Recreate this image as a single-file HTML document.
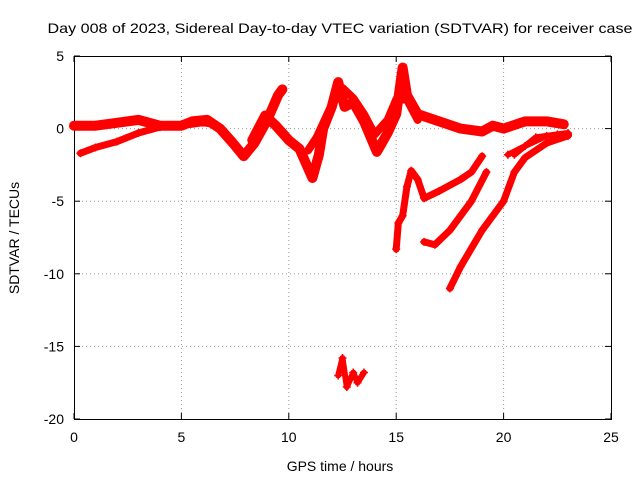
<!DOCTYPE html>
<html><head><meta charset="utf-8"><style>
body{margin:0;background:#fff}
svg text{font-family:"Liberation Sans",sans-serif;font-size:14px;fill:#000}
</style></head><body>
<svg id="chart" width="640" height="480">
<text x="340" y="33" text-anchor="middle" textLength="585" lengthAdjust="spacingAndGlyphs">Day 008 of 2023, Sidereal Day-to-day VTEC variation (SDTVAR) for receiver case</text>
<g id="grid"></g>
<g id="axes"></g>
<g id="series"></g>
<text x="340" y="471" text-anchor="middle">GPS time / hours</text>
<text transform="translate(19,238) rotate(-90)" text-anchor="middle">SDTVAR / TECUs</text>
</svg>
<script>
const xTicks=[0,5,10,15,20,25];
const yTicks=[5,0,-5,-10,-15,-20];
const trackMain=[[0,0.2],[1,0.2],[2,0.4],[3,0.6],[4,0.2],[5,0.2],[5.5,0.5],[6.2,0.6],[6.8,0],[7.4,-1],[7.9,-1.9],[8.4,-1],[9,0.6],[9.5,2.3],[9.7,2.7]];
const trackLow=[[0.3,-1.7],[1,-1.3],[2,-0.9],[3,-0.3],[4,0.1],[5,0.2],[6,0.4],[6.5,0.3]];
const trackMid=[[8.3,-0.8],[8.9,0.9],[9.4,0.2],[10,-0.8],[10.5,-1.4],[11.1,-3.4],[11.4,-1.8],[11.6,0],[12,1.5],[12.3,3.2],[12.6,1.5],[13,1.8],[13.5,0.5],[14.1,-1.6],[14.6,-0.3],[15,1],[15.3,4.2],[15.5,2.3],[16,1],[17,0.5],[18,0],[19,-0.2],[19.5,0.2],[20,0],[21,0.5],[22,0.5],[22.8,0.3]];
const trackMid2=[[10.9,-1.5],[11.3,-0.6],[11.8,1],[12.2,2.2],[12.5,2.8],[13,2.1],[13.5,1],[14,-0.4],[14.6,0.6],[15,2],[15.5,2],[16,0.6]];
const trackFall1=[[15,-8.3],[15.1,-6.5],[15.3,-6],[15.5,-4],[15.7,-2.9],[16,-3.5],[16.3,-4.8],[17,-4.3],[18,-3.5],[18.5,-3],[19,-1.9]];
const trackFall2=[[16.3,-7.8],[16.8,-8],[17.5,-7],[18.5,-5],[19.2,-3]];
const trackFall3=[[17.5,-11],[18,-9.5],[19,-7],[19.5,-6],[20,-5],[20.5,-3],[21,-2],[22,-1],[23,-0.5]];
const trackFall4=[[20.2,-1.8],[21,-1.2],[22,-0.5],[23,-0.4]];
const trackFall5=[[20.5,-1.8],[21.5,-0.6],[22.5,-0.4],[23,-0.3]];
const trackCluster=[[12.3,-17],[12.5,-15.8],[12.7,-17.8],[13,-16.8],[13.2,-17.5],[13.5,-16.8]];
const tracks=[trackMain,trackLow,trackMid,trackMid2,trackFall1,trackFall2,trackFall3,trackFall4,trackFall5,trackCluster];
const widths=[10,7,10,8,7,7,7,6,6,6];
const X0=74,X1=611,Y0=56,Y1=419;
const sx=v=>X0+(v-0)/25*(X1-X0);
const sy=v=>Y0+(5-v)/25*(Y1-Y0);
const NS="http://www.w3.org/2000/svg";
function mk(tag,attrs,parent){const e=document.createElementNS(NS,tag);for(const k in attrs)e.setAttribute(k,attrs[k]);parent.appendChild(e);return e;}
const grid=document.getElementById('grid'),axes=document.getElementById('axes'),ser=document.getElementById('series');
xTicks.forEach(t=>{const x=sx(t);
 if(t>0&&t<25){const l=mk('line',{x1:x,y1:Y0,x2:x,y2:Y1,stroke:'#999','stroke-dasharray':'1,3','stroke-width':1},grid);
 
 }
 mk('line',{x1:x,y1:Y1,x2:x,y2:Y1-6,stroke:'#000'},axes);mk('line',{x1:x,y1:Y0,x2:x,y2:Y0+6,stroke:'#000'},axes);
 const tx=mk('text',{x:x,y:Y1+23,'text-anchor':'middle'},axes);tx.textContent=t;
 
 });
yTicks.forEach(t=>{const y=sy(t);
 if(t<5&&t>-20){const l=mk('line',{x1:X0,y1:y,x2:X1,y2:y,stroke:'#999','stroke-dasharray':'1,3','stroke-width':1},grid);
 
 }
 mk('line',{x1:X0,y1:y,x2:X0+6,y2:y,stroke:'#000'},axes);mk('line',{x1:X1,y1:y,x2:X1-6,y2:y,stroke:'#000'},axes);
 const tx=mk('text',{x:X0-10,y:y+5,'text-anchor':'end'},axes);tx.textContent=t;
 
 });
mk('rect',{x:X0+.5,y:Y0+.5,width:X1-X0,height:Y1-Y0,fill:'none',stroke:'#000'},axes);
tracks.forEach((tr,i)=>{
 const pl=mk('polyline',{points:tr.map(p=>sx(p[0])+','+sy(p[1])).join(' '),fill:'none',stroke:'#f00','stroke-width':widths[i],'stroke-linejoin':'round','stroke-linecap':'round'},ser);
 
 
 tr.forEach(p=>{const x=sx(p[0]),y=sy(p[1]);
  const m=mk('path',{d:`M${x-4},${y}H${x+4}M${x},${y-4}V${y+4}`,stroke:'#f00','stroke-width':1.5},ser);
  
  });
});
</script>
</body></html>
